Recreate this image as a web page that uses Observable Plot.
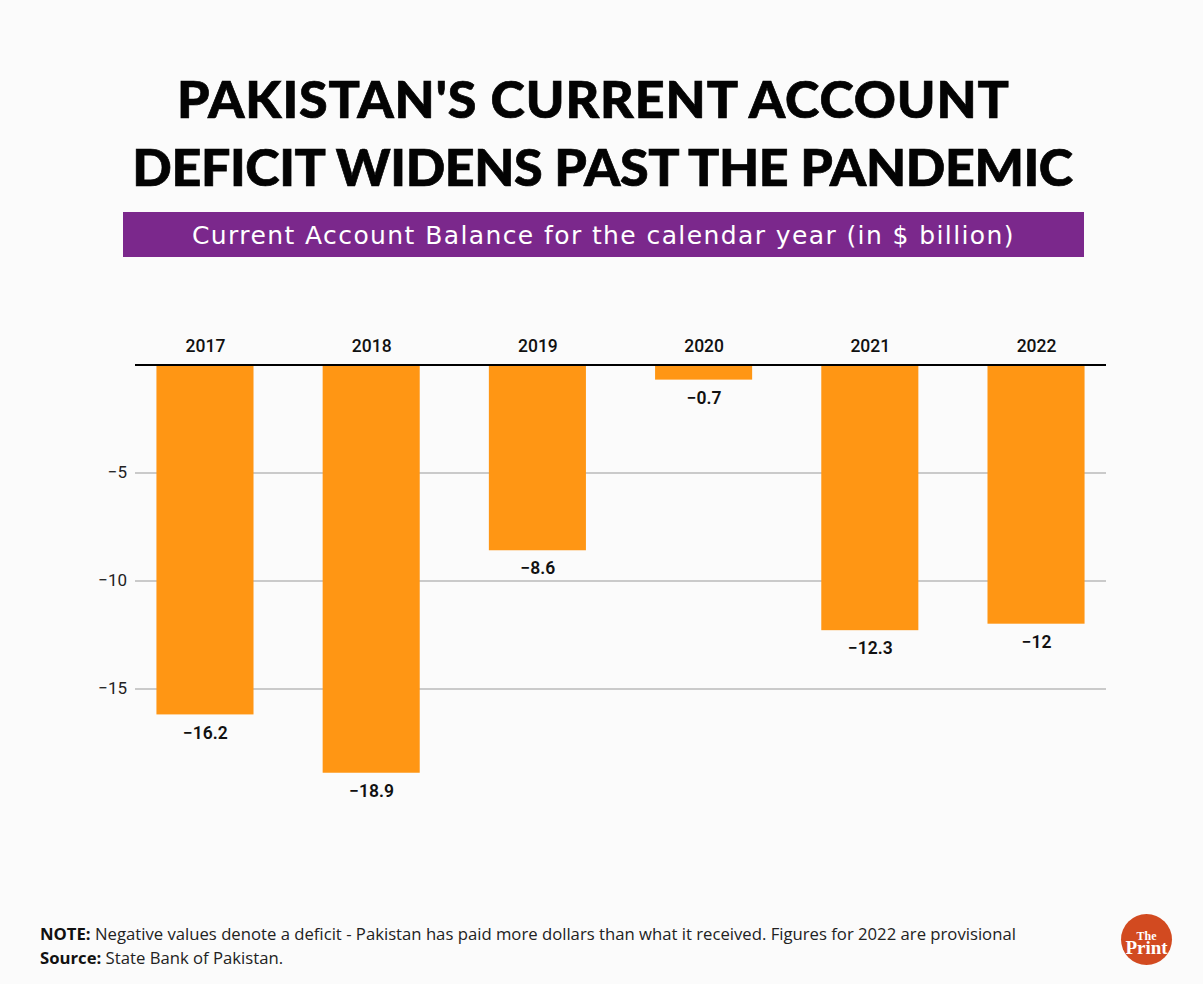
<!DOCTYPE html>
<html>
<head>
<meta charset="utf-8">
<script src="https://cdn.jsdelivr.net/npm/d3@7"></script>
<script src="https://cdn.jsdelivr.net/npm/@observablehq/plot@0.6"></script>
<style>
  html, body { margin: 0; padding: 0; background: #fbfbfb; }
  #page { position: relative; width: 1203px; height: 984px; overflow: hidden; background: #fbfbfb; }
  .t { position: absolute; left: 0; width: 1203px; text-align: center; white-space: nowrap; font-family: Lato, sans-serif; font-weight: 900; color: #030303; font-size: 52px; line-height: 60px; -webkit-text-stroke: 0.7px #030303; }
  #t1 { top: 68px; left: -8px; letter-spacing: 0.9px; }
  #t2 { top: 136px; left: 1px; letter-spacing: -0.4px; }
  #sub { position: absolute; left: 123px; top: 212px; width: 961px; height: 45px; background: #7b288c; color: #fff; font-family: "DejaVu Sans", sans-serif; font-size: 25px; line-height: 47px; letter-spacing: 1.4px; text-align: center; white-space: nowrap; }
  #chart { position: absolute; left: 0; top: 320px; }
  #foot { position: absolute; left: 40px; top: 921.5px; font-family: "Open Sans", sans-serif; font-size: 16.7px; line-height: 24.5px; color: #222; white-space: nowrap; }
  #foot b { color: #111; }
  #logo { position: absolute; left: 1121px; top: 914px; width: 51px; height: 51px; border-radius: 50%; background: #d24a20; }
  #logoText { width: 44px; margin: 0 auto; padding-top: 13px; color: #fff; font-family: "Liberation Serif", serif; font-weight: 700; text-align: center; font-size: 19px; line-height: 14px; }
  #logoText::first-line { font-size: 12px; line-height: 11px; }
</style>
</head>
<body>
<div id="page">
  <div class="t" id="t1">PAKISTAN'S CURRENT ACCOUNT</div>
  <div class="t" id="t2">DEFICIT WIDENS PAST THE PANDEMIC</div>
  <div id="sub">Current Account Balance for the calendar year (in $ billion)</div>
  <div id="chart"></div>
  <div id="foot"><b>NOTE:</b> Negative values denote a deficit - Pakistan has paid more dollars than what it received. Figures for 2022 are provisional<br><b>Source:</b> State Bank of Pakistan.</div>
  <div id="logo"><div id="logoText">The Print</div></div>
</div>
<script>
const years = ["2017", "2018", "2019", "2020", "2021", "2022"];
const balance = [-16.2, -18.9, -8.6, -0.7, -12.3, -12];
const yTicks = [-5, -10, -15];
const rows = years.map((year, i) => ({year, value: balance[i]}));
const minus = (v) => String(v).replace("-", "\u2212");

const chart = Plot.plot({
  width: 1203,
  height: 500,
  marginTop: 44.5,
  marginBottom: 23.5,
  marginLeft: 135,
  marginRight: 97,
  style: {background: "transparent", fontFamily: "Roboto, sans-serif", overflow: "visible"},
  x: {domain: years, paddingInner: 0.416, paddingOuter: 0.129, round: false, label: null},
  y: {domain: [-20, 0], label: null},
  marks: [
    Plot.ruleY(yTicks, {stroke: "#9a9a9a", strokeWidth: 1.2}),
    Plot.barY(rows, {x: "year", y1: 0, y2: "value", fill: "#ff9614"}),
    Plot.ruleY([0], {stroke: "#000", strokeWidth: 2}),
    Plot.axisX({anchor: "top", tickSize: 0, tickPadding: 13, fontSize: 17.5, fontWeight: 500, fill: "#111", label: null}),
    Plot.axisY({ticks: yTicks, tickSize: 0, tickPadding: 8.5, fontSize: 17, fill: "#222", label: null, tickFormat: minus}),
    Plot.text(rows, {x: "year", y: "value", text: (d) => minus(d.value), dy: 18, fontSize: 17.5, fontWeight: 600, fill: "#111"})
  ]
});
document.getElementById("chart").appendChild(chart);
</script>
</body>
</html>
